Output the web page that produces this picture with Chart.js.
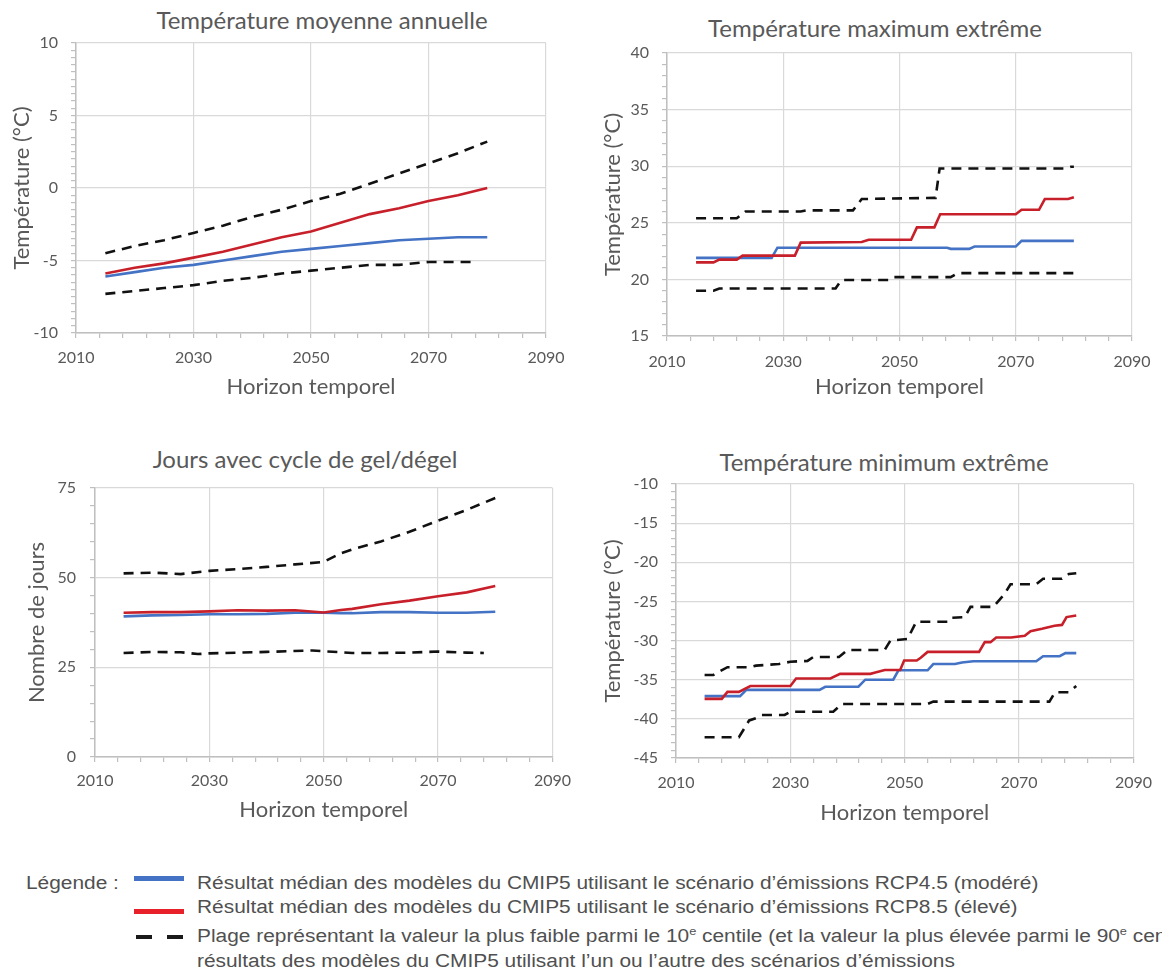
<!DOCTYPE html>
<html lang="fr">
<head>
<meta charset="utf-8">
<title>Indicateurs climatiques</title>
<script src="https://cdn.jsdelivr.net/npm/chart.js@4.4.0/dist/chart.umd.min.js"></script>
<style>
  html, body { margin: 0; padding: 0; background: #fff; }
  body { width: 1162px; height: 975px; position: relative; overflow: hidden; font-family: Lato, sans-serif; }
  .panel { position: absolute; }
  .titre { position: absolute; font-size: 24px; line-height: 28px; color: #595959; white-space: nowrap; transform: translateX(-50%); }
  .leg { position: absolute; font-family: "Liberation Sans", Arial, sans-serif; font-size: 18px; line-height: 22px; color: #505050; white-space: nowrap; transform: scaleX(1.16); transform-origin: 0 0; }
  .trait { position: absolute; }
  sup { font-size: 11px; line-height: 0; }
</style>
</head>
<body>

<div class="titre" style="left:322px; top:6px;">Température moyenne annuelle</div>
<div class="titre" style="left:875px; top:14px;">Température maximum extrême</div>
<div class="titre" style="left:305px; top:445px;">Jours avec cycle de gel/dégel</div>
<div class="titre" style="left:884px; top:448px;">Température minimum extrême</div>

<div class="panel" style="left:0px; top:0px;"><canvas id="moy" width="580" height="420"></canvas></div>
<div class="panel" style="left:580px; top:0px;"><canvas id="max" width="582" height="420"></canvas></div>
<div class="panel" style="left:0px; top:430px;"><canvas id="gel" width="580" height="420"></canvas></div>
<div class="panel" style="left:580px; top:430px;"><canvas id="min" width="582" height="420"></canvas></div>

<div class="leg" style="left:26px; top:872px;">Légende :</div>
<div class="trait" style="left:134px; top:876px; width:50px; height:5px; background:#4472c4;"></div>
<div class="leg" style="left:197px; top:872px;">Résultat médian des modèles du CMIP5 utilisant le scénario d’émissions RCP4.5 (modéré)</div>
<div class="trait" style="left:134px; top:909px; width:50px; height:5px; background:#e8202a;"></div>
<div class="leg" style="left:197px; top:896px;">Résultat médian des modèles du CMIP5 utilisant le scénario d’émissions RCP8.5 (élevé)</div>
<div class="trait" style="left:136px; top:935px; width:16px; height:4px; background:#1a1a1a;"></div>
<div class="trait" style="left:167px; top:935px; width:16px; height:4px; background:#1a1a1a;"></div>
<div class="leg" style="left:197px; top:925px;">Plage représentant la valeur la plus faible parmi le 10<sup>e</sup> centile (et la valeur la plus élevée parmi le 90<sup>e</sup> centile) des</div>
<div class="leg" style="left:197px; top:950px;">résultats des modèles du CMIP5 utilisant l’un ou l’autre des scénarios d’émissions</div>

<script>
// Température moyenne annuelle
const moyAnnees = [2015, 2020, 2025, 2030, 2035, 2040, 2045, 2050, 2055, 2060, 2065, 2070, 2075, 2080];
const moyRcp45 = [-6.1, -5.8, -5.5, -5.3, -5.0, -4.7, -4.4, -4.2, -4.0, -3.8, -3.6, -3.5, -3.4, -3.4];
const moyRcp85 = [-5.9, -5.5, -5.2, -4.8, -4.4, -3.9, -3.4, -3.0, -2.4, -1.8, -1.4, -0.9, -0.5, 0.0];
const moyHaut = [-4.5, -4.0, -3.6, -3.1, -2.6, -2.0, -1.5, -0.9, -0.4, 0.3, 1.0, 1.7, 2.4, 3.2];
const moyBasAnnees = [2015, 2020, 2025, 2030, 2035, 2040, 2045, 2050, 2055, 2060, 2065, 2070, 2078];
const moyBas = [-7.3, -7.1, -6.9, -6.7, -6.4, -6.2, -5.9, -5.7, -5.5, -5.3, -5.3, -5.1, -5.1];

// Température maximum extrême
const maxRcp45Annees = [2015, 2028, 2029, 2058.2, 2058.8, 2062, 2062.9, 2070, 2071, 2080];
const maxRcp45 = [21.9, 21.9, 22.8, 22.8, 22.7, 22.7, 22.9, 22.9, 23.4, 23.4];
const maxRcp85Annees = [2015, 2018, 2019, 2022, 2023, 2032, 2033, 2043.5, 2044.7, 2052, 2053, 2056, 2057, 2070, 2071, 2074, 2075, 2079, 2080];
const maxRcp85 = [21.5, 21.5, 21.75, 21.75, 22.1, 22.1, 23.25, 23.3, 23.5, 23.5, 24.6, 24.6, 25.75, 25.75, 26.15, 26.15, 27.1, 27.1, 27.25];
const maxHautAnnees = [2015, 2022, 2023.5, 2033, 2034, 2042, 2043.5, 2056.2, 2056.9, 2078.5, 2079.5, 2080];
const maxHaut = [25.4, 25.4, 26.0, 26.0, 26.1, 26.1, 27.1, 27.2, 29.8, 29.8, 29.95, 29.95];
const maxBasAnnees = [2015, 2018, 2019, 2039, 2040, 2048.2, 2049, 2058.8, 2060, 2080];
const maxBas = [19.0, 19.0, 19.2, 19.2, 19.95, 19.95, 20.2, 20.2, 20.55, 20.55];

// Jours avec cycle de gel/dégel
const gelAnnees = [2015, 2020, 2025, 2030, 2035, 2040, 2045, 2050, 2053, 2055, 2060, 2065, 2070, 2075, 2080];
const gelHaut = [51.2, 51.4, 51.0, 51.9, 52.4, 53.0, 53.7, 54.4, 56.8, 57.9, 60.1, 62.8, 65.9, 68.9, 72.2];
const gelRcp85 = [40.2, 40.4, 40.4, 40.6, 40.9, 40.8, 40.9, 40.3, 41.0, 41.3, 42.6, 43.6, 44.8, 45.9, 47.7];
const gelRcp45 = [39.2, 39.5, 39.6, 39.8, 39.8, 39.9, 40.2, 40.2, 40.1, 40.1, 40.4, 40.4, 40.2, 40.2, 40.5];
const gelBasAnnees = [2015, 2020, 2025, 2028, 2030, 2035, 2040, 2048, 2055, 2060, 2065, 2070, 2075, 2078];
const gelBas = [29.0, 29.3, 29.2, 28.7, 28.9, 29.1, 29.3, 29.7, 29.0, 29.0, 29.1, 29.4, 29.1, 29.0];

// Température minimum extrême
const minRcp45Annees = [2015, 2021.2, 2022.3, 2035.1, 2036.1, 2041.9, 2043.1, 2048, 2048.9, 2054, 2055, 2058.8, 2060, 2062, 2073, 2074.2, 2077.1, 2078.1, 2080];
const minRcp45 = [-37.1, -37.1, -36.3, -36.3, -35.9, -35.9, -35.0, -35.0, -33.8, -33.8, -33.0, -33.0, -32.8, -32.65, -32.65, -32.0, -32.0, -31.6, -31.6];
const minRcp85Annees = [2015, 2018, 2019, 2021, 2023, 2030, 2031, 2037, 2038.7, 2044, 2044.7, 2046.5, 2049.2, 2049.9, 2052.1, 2052.8, 2054, 2063, 2064, 2065, 2066, 2068.6, 2071, 2072, 2074, 2076.2, 2077.5, 2078.3, 2080];
const minRcp85 = [-37.45, -37.45, -36.55, -36.55, -35.8, -35.8, -34.85, -34.85, -34.25, -34.25, -34.1, -33.75, -33.75, -32.55, -32.55, -32.2, -31.45, -31.45, -30.2, -30.2, -29.6, -29.6, -29.4, -28.8, -28.5, -28.1, -28.0, -27.0, -26.8];
const minHautAnnees = [2015, 2016.5, 2019, 2023, 2024, 2028, 2030, 2033, 2034, 2038.5, 2040, 2046.5, 2047.5, 2050.5, 2052, 2057.5, 2058, 2060.5, 2061.5, 2065.5, 2067.5, 2068.5, 2073, 2074.2, 2077.5, 2078.7, 2080];
const minHaut = [-34.4, -34.4, -33.4, -33.4, -33.2, -33.0, -32.7, -32.6, -32.1, -32.1, -31.2, -31.2, -30.0, -29.8, -27.6, -27.6, -27.1, -27.0, -25.7, -25.7, -24.0, -22.8, -22.8, -22.1, -22.1, -21.5, -21.4];
const minBasAnnees = [2015, 2021, 2022.8, 2024, 2025, 2029, 2030, 2037.5, 2039, 2054, 2055, 2075.3, 2076.3, 2078.7, 2080];
const minBas = [-42.35, -42.35, -40.2, -39.9, -39.5, -39.5, -39.1, -39.1, -38.1, -38.1, -37.8, -37.8, -36.6, -36.6, -35.8];

const grisTexte = '#595959';
const grisGrille = '#d9d9d9';
const grisAxe = '#bfbfbf';
const bleu = '#4472c4';
const rouge = '#c8202a';
const police = 'Lato, sans-serif';

function points(xs, ys) {
  return xs.map((x, i) => ({ x: x, y: ys[i] }));
}

function serie(xs, ys, couleur, pointille) {
  return {
    data: points(xs, ys),
    borderColor: couleur,
    borderWidth: 2.6,
    borderDash: pointille ? [10, 7] : [],
    pointRadius: 0,
    tension: 0,
    fill: false
  };
}

function graphique(id, series, c) {
  new Chart(document.getElementById(id), {
    type: 'line',
    data: { datasets: series },
    options: {
      responsive: false,
      animation: false,
      layout: { padding: { top: c.haut, right: c.droite, left: 0, bottom: 0 } },
      plugins: { legend: { display: false }, tooltip: { enabled: false } },
      scales: {
        x: {
          type: 'linear', min: 2010, max: 2090,
          afterFit: s => { s.height = c.hauteurX; },
          ticks: {
            stepSize: 4, autoSkip: false, maxRotation: 0, padding: c.padTicksX,
            color: grisTexte, font: { family: police, size: 16 },
            callback: v => ((v - 2010) % 20 === 0 ? String(v) : '')
          },
          grid: {
            color: ctx => (ctx.tick && (ctx.tick.value - 2010) % 20 === 0 ? grisGrille : 'rgba(0,0,0,0)'),
            tickColor: grisAxe, tickLength: 5, lineWidth: 1.2
          },
          border: { color: grisAxe, width: 1.5 },
          title: {
            display: true, text: 'Horizon temporel', color: grisTexte,
            font: { family: police, size: 22 }, padding: { top: 0, bottom: c.padTitreX }
          }
        },
        y: {
          min: c.ymin, max: c.ymax,
          afterFit: s => { s.width = c.largeurY; },
          ticks: {
            stepSize: c.pas, autoSkip: false, padding: c.padTicksY,
            color: grisTexte, font: { family: police, size: 16 },
            callback: v => (v % c.majeur === 0 ? String(v) : '')
          },
          grid: {
            color: ctx => (ctx.tick && ctx.tick.value % c.majeur === 0 ? grisGrille : 'rgba(0,0,0,0)'),
            tickColor: grisAxe, tickLength: 5, lineWidth: 1.2
          },
          border: { color: grisAxe, width: 1.5 },
          title: {
            display: true, text: c.titreY, color: grisTexte,
            font: { family: police, size: 22 }, padding: { top: c.padTitreY, bottom: 0 }
          }
        }
      }
    }
  });
}

graphique('moy', [
  serie(moyAnnees, moyRcp85, rouge, false),
  serie(moyAnnees, moyRcp45, bleu, false),
  serie(moyAnnees, moyHaut, '#111', true),
  serie(moyBasAnnees, moyBas, '#111', true)
], { ymin: -10, ymax: 10, pas: 0.5, majeur: 5, titreY: 'Température (°C)', largeurY: 76, hauteurX: 87,
     padTitreY: 9, padTitreX: 20, haut: 43, droite: 34, padTicksX: 10, padTicksY: 13 });

graphique('max', [
  serie(maxRcp85Annees, maxRcp85, rouge, false),
  serie(maxRcp45Annees, maxRcp45, bleu, false),
  serie(maxHautAnnees, maxHaut, '#111', true),
  serie(maxBasAnnees, maxBas, '#111', true)
], { ymin: 15, ymax: 40, pas: 1, majeur: 5, titreY: 'Température (°C)', largeurY: 87, hauteurX: 84,
     padTitreY: 20, padTitreX: 20, haut: 53, droite: 30, padTicksX: 11, padTicksY: 13 });

graphique('gel', [
  serie(gelAnnees, gelRcp85, rouge, false),
  serie(gelAnnees, gelRcp45, bleu, false),
  serie(gelAnnees, gelHaut, '#111', true),
  serie(gelBasAnnees, gelBas, '#111', true)
], { ymin: 0, ymax: 75, pas: 5, majeur: 25, titreY: 'Nombre de jours', largeurY: 95, hauteurX: 93,
     padTitreY: 24, padTitreX: 27, haut: 58, droite: 19, padTicksX: 9, padTicksY: 14 });

graphique('min', [
  serie(minRcp85Annees, minRcp85, rouge, false),
  serie(minRcp45Annees, minRcp45, bleu, false),
  serie(minHautAnnees, minHaut, '#111', true),
  serie(minBasAnnees, minBas, '#111', true)
], { ymin: -45, ymax: -10, pas: 1, majeur: 5, titreY: 'Température (°C)', largeurY: 96, hauteurX: 92,
     padTitreY: 20, padTitreX: 24, haut: 54, droite: 22, padTicksX: 10, padTicksY: 13 });
</script>
</body>
</html>
